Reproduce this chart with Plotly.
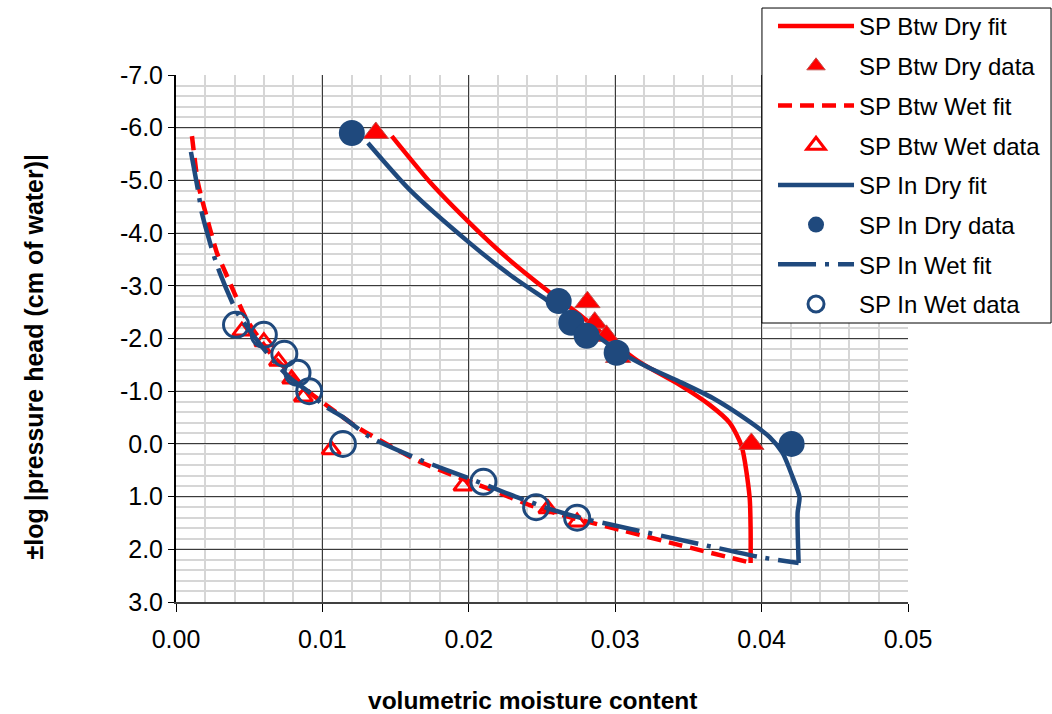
import plotly.graph_objects as go

RED = "#FF0000"
BLUE = "#1F497D"
FONT = "Liberation Sans, Arial"

# SP Btw Dry fit
btw_dry_fit_x = [0.01474, 0.01734, 0.02007, 0.02253, 0.02532, 0.02758, 0.02962, 0.03167,
                 0.03440, 0.03645, 0.03782, 0.03863, 0.03918, 0.03925, 0.03925]
btw_dry_fit_y = [-5.84, -4.97, -4.19, -3.55, -2.92, -2.45, -1.98, -1.55,
                 -1.12, -0.74, -0.40, 0.04, 1.01, 1.63, 2.26]

# SP Btw Dry data
btw_dry_x = [0.01365, 0.02810, 0.02860, 0.02940, 0.03020, 0.03930]
btw_dry_y = [-5.90, -2.69, -2.30, -2.05, -1.65, 0.00]

# SP Btw Wet fit
btw_wet_fit_x = [0.00109, 0.00150, 0.00184, 0.00280, 0.00321, 0.00485, 0.00642, 0.00778,
                 0.00915, 0.01099, 0.01236, 0.01666, 0.02191, 0.02416, 0.02689, 0.03031,
                 0.03440, 0.03932]
btw_wet_fit_y = [-5.84, -4.95, -4.57, -3.62, -3.36, -2.35, -1.73, -1.35,
                 -0.97, -0.59, -0.32, 0.34, 0.91, 1.16, 1.39, 1.63,
                 1.92, 2.26]

# SP Btw Wet data
btw_wet_x = [0.0045, 0.0060, 0.0070, 0.0079, 0.0087, 0.0106, 0.0196, 0.0254, 0.0274]
btw_wet_y = [-2.14, -1.94, -1.57, -1.23, -0.89, 0.11, 0.80, 1.23, 1.48]

# SP In Dry fit
in_dry_fit_x = [0.01311, 0.01597, 0.02007, 0.02280, 0.02532, 0.02758, 0.03010, 0.03235,
                0.03440, 0.03666, 0.03898, 0.04055, 0.04143, 0.04212, 0.04259, 0.04246, 0.04253]
in_dry_fit_y = [-5.71, -4.82, -3.81, -3.21, -2.73, -2.30, -1.78, -1.44,
                -1.18, -0.87, -0.46, -0.13, 0.17, 0.63, 1.01, 1.31, 2.26]

# SP In Dry data
in_dry_x = [0.01201, 0.02614, 0.02700, 0.02805, 0.03010, 0.04205]
in_dry_y = [-5.90, -2.71, -2.30, -2.05, -1.73, 0.00]

# SP In Wet fit
in_wet_fit_x = [0.00102, 0.00150, 0.00177, 0.00253, 0.00300, 0.00416, 0.00553, 0.00662,
                0.00778, 0.00915, 0.01003, 0.01140, 0.01324, 0.01666, 0.02027, 0.02328,
                0.02573, 0.02758, 0.02983, 0.03577, 0.03973, 0.04253]
in_wet_fit_y = [-5.54, -4.82, -4.38, -3.62, -3.24, -2.50, -1.97, -1.59,
                -1.25, -0.97, -0.74, -0.51, -0.13, 0.30, 0.68, 1.01,
                1.25, 1.40, 1.54, 1.90, 2.14, 2.26]

# SP In Wet data
in_wet_x = [0.0041, 0.0060, 0.0074, 0.0083, 0.0091, 0.0114, 0.0210, 0.0246, 0.0274]
in_wet_y = [-2.26, -2.07, -1.71, -1.35, -1.00, 0.00, 0.72, 1.20, 1.40]

x_ticks = [0.00, 0.01, 0.02, 0.03, 0.04, 0.05]
x_tick_labels = ["0.00", "0.01", "0.02", "0.03", "0.04", "0.05"]
y_ticks = [-7, -6, -5, -4, -3, -2, -1, 0, 1, 2, 3]
y_tick_labels = ["-7.0", "-6.0", "-5.0", "-4.0", "-3.0", "-2.0", "-1.0", "0.0", "1.0", "2.0", "3.0"]

fig = go.Figure()

fig.add_trace(go.Scatter(x=btw_dry_fit_x, y=btw_dry_fit_y, mode="lines", name="SP Btw Dry fit",
                         legendgroup="a", line=dict(color=RED, width=4.5, shape="spline", smoothing=0.7)))
fig.add_trace(go.Scatter(x=btw_dry_x, y=btw_dry_y, mode="markers", name="SP Btw Dry data",
                         legendgroup="b",
                         marker=dict(symbol="triangle-up", size=22, color=RED,
                                     line=dict(color="#C0504D", width=1))))
fig.add_trace(go.Scatter(x=btw_wet_fit_x, y=btw_wet_fit_y, mode="lines", name="SP Btw Wet fit",
                         legendgroup="c",
                         line=dict(color=RED, width=4.5, dash="14px,8px", shape="spline", smoothing=0.6)))
fig.add_trace(go.Scatter(x=btw_wet_x, y=btw_wet_y, mode="markers", name="SP Btw Wet data",
                         legendgroup="d",
                         marker=dict(symbol="triangle-up-open", size=16, color=RED,
                                     line=dict(color=RED, width=3))))
fig.add_trace(go.Scatter(x=in_dry_fit_x, y=in_dry_fit_y, mode="lines", name="SP In Dry fit",
                         legendgroup="e", line=dict(color=BLUE, width=4.5, shape="spline", smoothing=0.7)))
fig.add_trace(go.Scatter(x=in_dry_x, y=in_dry_y, mode="markers", name="SP In Dry data",
                         legendgroup="f",
                         marker=dict(symbol="circle", size=26, color=BLUE, line=dict(width=0))))
fig.add_trace(go.Scatter(x=in_wet_fit_x, y=in_wet_fit_y, mode="lines", name="SP In Wet fit",
                         legendgroup="g",
                         line=dict(color=BLUE, width=4.5, dash="38px,9px,4px,9px",
                                   shape="spline", smoothing=0.6)))
fig.add_trace(go.Scatter(x=in_wet_x, y=in_wet_y, mode="markers", name="SP In Wet data",
                         legendgroup="h",
                         marker=dict(symbol="circle-open", size=25, color=BLUE,
                                     line=dict(color=BLUE, width=3))))

fig.update_xaxes(
    range=[0, 0.05], tickvals=x_ticks, ticktext=x_tick_labels,
    showgrid=True, gridcolor="#3A3A3A", gridwidth=1.2,
    minor=dict(dtick=0.002, showgrid=True, gridcolor="#D6D6D6", gridwidth=1.5),
    showline=True, linecolor="#404040", linewidth=2,
    ticks="outside", ticklen=8, tickcolor="#000000", tickwidth=1,
    ticklabelstandoff=6,
    tickfont=dict(family=FONT, size=25, color="#000000"),
    zeroline=False, automargin=False,
)
fig.update_yaxes(
    range=[3, -7], tickvals=y_ticks, ticktext=y_tick_labels,
    showgrid=True, gridcolor="#3A3A3A", gridwidth=1.2,
    minor=dict(dtick=0.2, showgrid=True, gridcolor="#D6D6D6", gridwidth=1.5),
    showline=True, linecolor="#000000", linewidth=2,
    ticks="outside", ticklen=6, tickcolor="#000000", tickwidth=1,
    tickfont=dict(family=FONT, size=25, color="#000000"),
    zeroline=False, automargin=False,
)

fig.add_annotation(text="<b>volumetric moisture content</b>", xref="paper", yref="paper",
                   x=0.487, y=-0.186, xanchor="center", yanchor="middle", showarrow=False,
                   font=dict(family=FONT, size=24.5, color="#000000"))
fig.add_annotation(text="<b>±log |pressure head (cm of water)|</b>", xref="paper", yref="paper",
                   x=-0.194, y=0.4658, xanchor="center", yanchor="middle",
                   showarrow=False, textangle=-90,
                   font=dict(family=FONT, size=25, color="#000000"))

# legend frame, drawn over the plot area
fig.add_shape(type="rect", xref="paper", yref="paper",
              x0=0.8005, x1=1.1954, y0=0.5294, y1=1.1271,
              fillcolor="white", line=dict(color="#000000", width=1), layer="above")

fig.update_layout(
    width=1052, height=714,
    margin=dict(l=176, r=144, t=75, b=112, autoexpand=False),
    paper_bgcolor="white", plot_bgcolor="white",
    showlegend=True,
    legend=dict(
        x=0.8156, y=1.1347, xanchor="left", yanchor="top",
        bgcolor="rgba(0,0,0,0)", borderwidth=0,
        font=dict(family=FONT, size=24, color="#000000"),
        tracegroupgap=5.5, itemwidth=76,
    ),
)

fig.write_html("out.html")
